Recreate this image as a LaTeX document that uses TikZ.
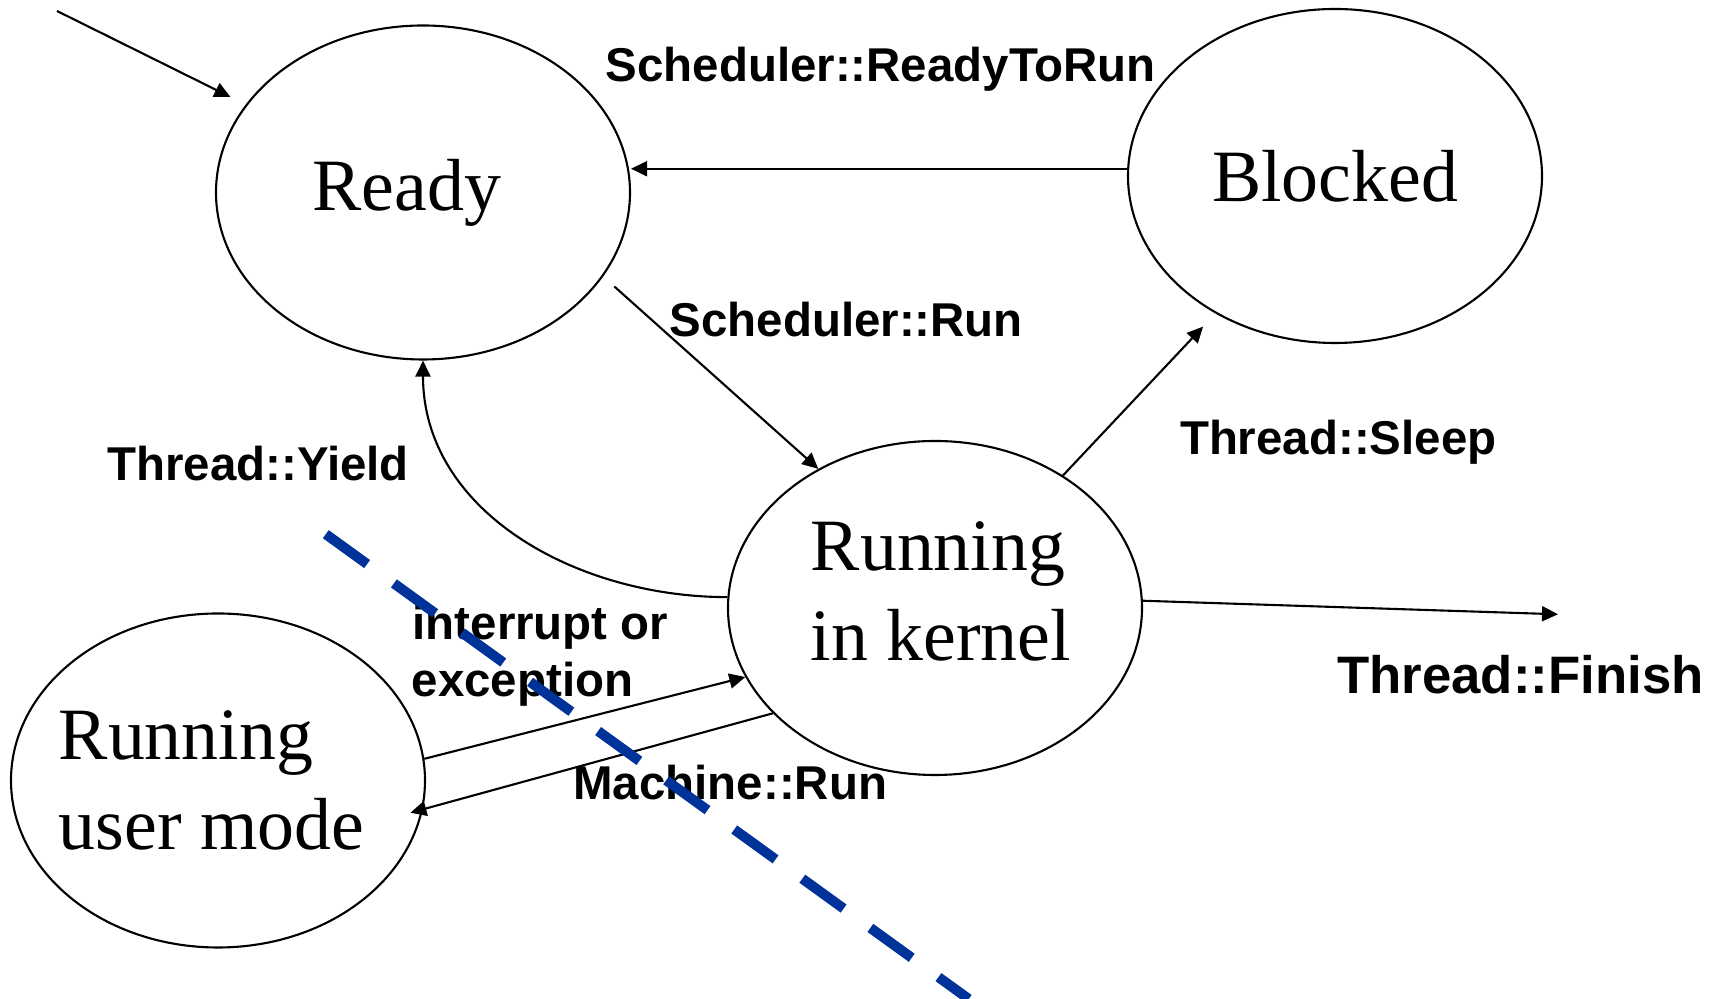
\documentclass[tikz,border=0pt]{standalone}
\usepackage{fontspec}
\setmainfont{Liberation Serif}
\newfontfamily\lblfont{Liberation Sans}
\usetikzlibrary{shapes.geometric,arrows.meta}
\definecolor{cutblue}{RGB}{0,51,153}

\begin{document}
\begin{tikzpicture}[
  state/.style={draw,ellipse,line width=0.6pt,minimum width=4.14cm,minimum height=3.34cm,inner sep=0pt,inner xsep=-0.15cm,font=\fontsize{21}{25.5}\selectfont},
  lbl/.style={anchor=base west,inner sep=0pt,font=\lblfont\bfseries\fontsize{13.5}{16}\selectfont},
  arr/.style={-{Triangle[length=0.16cm,width=0.15cm]},line width=0.6pt}]
\useasboundingbox (0,0) rectangle (17.2,9.99);
\node[state] (ready) at (4.23,8.065) {Ready\hspace*{0.32cm}};
\node[state] (blocked) at (13.35,8.23) {Blocked};
\node[state,align=left,text depth=0.34cm] (kernel) at (9.35,3.91) {\hspace*{0.12cm}Running\\\hspace*{0.12cm}in kernel};
\node[state,align=left] (user) at (2.18,2.185) {Running\\user mode\hspace*{0.13cm}};
\coordinate (start) at (0.57,9.88);
\coordinate (finish) at (15.58,3.847);
\coordinate (cutA) at (3.258,4.648);
\coordinate (cutB) at (9.687,0);
\node[lbl] (rtr) at (6.05,9.173) {Scheduler::ReadyToRun};
\node[lbl] (run) at (6.69,6.623) {Scheduler::Run};
\node[lbl] (yield) at (1.067,5.183) {Thread::Yield};
\node[lbl] (sleep) at (11.793,5.44) {Thread::Sleep};
\node[lbl,font=\lblfont\bfseries\fontsize{15}{18}\selectfont] (fin) at (13.367,3.05) {Thread::Finish};
\node[lbl] (intr) at (4.12,3.59) {interrupt or};
\node[lbl] (exc) at (4.11,3.023) {exception};
\node[lbl] (mrun) at (5.727,1.99) {Machine::Run};
\draw[arr,shorten >=0.17cm] (start) -- (ready);
\draw[arr] (blocked.178) -- (blocked.178 -| ready.east);
\draw[arr,shorten <=0.15cm] (ready.-25) -- (kernel.130);
\draw[arr,shorten >=0.18cm] (kernel.46) -- (blocked.229);
\draw[arr] (kernel.177) to[out=180,in=-90] (ready.south);
\draw[arr] (kernel.2) -- (finish);
\draw[arr] (user.6) -- (kernel.200);
\draw[arr,shorten >=-0.13cm] (kernel.213) -- (user.-8);
\draw[line width=0.1cm,color=cutblue,dash pattern=on 0.51cm off 0.33cm] (cutA) -- (cutB);
\end{tikzpicture}
\end{document}
